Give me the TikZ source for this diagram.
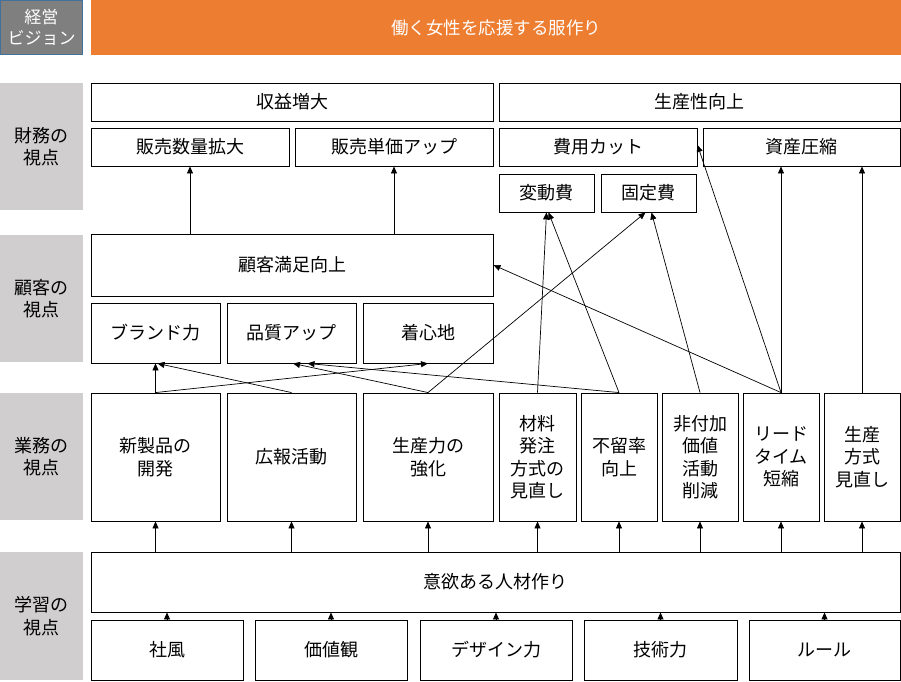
\documentclass[tikz,border=0pt]{standalone}
\usepackage{fontspec}
\setmainfont{Noto Sans CJK JP}
\usetikzlibrary{arrows.meta}
\definecolor{lblgray}{RGB}{208,206,206}
\definecolor{visgray}{RGB}{127,127,127}
\definecolor{visborder}{RGB}{65,113,156}
\definecolor{orng}{RGB}{237,125,49}
\tikzset{
  bx/.style={draw=black, line width=0.9pt, fill=white, inner sep=0pt, align=center,
    font=\fontsize{18}{22.5}\selectfont},
  lbl/.style={fill=lblgray, inner sep=0pt, align=center, anchor=north west,
    font=\fontsize{18}{22.5}\selectfont},
  arr/.style={draw=black, line width=0.7pt, -{Triangle[length=7pt,width=6pt]}}
}
\begin{document}
\begin{tikzpicture}[x=1pt,y=-1pt]
\useasboundingbox (0,0) rectangle (901,681);
% header
\node[fill=visgray, draw=visborder, line width=0.8pt, inner sep=0pt, minimum width=82pt, minimum height=54pt,
  text=white, align=center, font=\fontsize{17}{21}\selectfont] (vision) at (41.5,27.5) {経営\\ビジョン};
\node[fill=orng, inner sep=0pt, minimum width=810pt, minimum height=55pt, text=white,
  font=\fontsize{17.5}{20}\selectfont] (goal) at (496,27.5) {働く女性を応援する服作り};
% left labels
\node[lbl, minimum width=83pt, minimum height=127pt] (lz) at (0,83) {財務の\\視点};
\node[lbl, minimum width=83pt, minimum height=127pt] (lk) at (0,235) {顧客の\\視点};
\node[lbl, minimum width=83pt, minimum height=127pt] (lg) at (0,393) {業務の\\視点};
\node[lbl, minimum width=83pt, minimum height=128pt] (lh) at (0,552) {学習の\\視点};
% finance
\node[bx, minimum width=402pt, minimum height=38pt] (shueki) at (292,102) {収益増大};
\node[bx, minimum width=401pt, minimum height=38pt] (seisansei) at (699.5,102) {生産性向上};
\node[bx, minimum width=198pt, minimum height=38pt] (hanbai) at (190,147) {販売数量拡大};
\node[bx, minimum width=198pt, minimum height=38pt] (tanka) at (394,147) {販売単価アップ};
\node[bx, minimum width=198pt, minimum height=38pt] (hiyou) at (598,147) {費用カット};
\node[bx, minimum width=197pt, minimum height=38pt] (shisan) at (801.5,147) {資産圧縮};
\node[bx, minimum width=95pt, minimum height=38pt] (hendo) at (546.5,193) {変動費};
\node[bx, minimum width=95pt, minimum height=38pt] (kotei) at (648.5,193) {固定費};
% customer
\node[bx, minimum width=402pt, minimum height=62pt] (manzoku) at (292,265) {顧客満足向上};
\node[bx, minimum width=129pt, minimum height=60pt] (brand) at (155.5,333) {ブランド力};
\node[bx, minimum width=129pt, minimum height=60pt] (hinshitsu) at (291.5,333) {品質アップ};
\node[bx, minimum width=130pt, minimum height=60pt] (kigokochi) at (428,333) {着心地};
% business
\node[bx, minimum width=129pt, minimum height=128pt] (shinseihin) at (155.5,457) {新製品の\\開発};
\node[bx, minimum width=129pt, minimum height=128pt] (kouhou) at (291.5,457) {広報活動};
\node[bx, minimum width=130pt, minimum height=128pt] (seisanryoku) at (428,457) {生産力の\\強化};
\node[bx, minimum width=77pt, minimum height=128pt] (zairyo) at (537.5,457) {材料\\発注\\方式の\\見直し};
\node[bx, minimum width=76pt, minimum height=128pt] (furyu) at (619,457) {不留率\\向上};
\node[bx, minimum width=76pt, minimum height=128pt] (hifuka) at (700,457) {非付加\\価値\\活動\\削減};
\node[bx, minimum width=76pt, minimum height=128pt] (lead) at (781,457) {リード\\タイム\\短縮};
\node[bx, minimum width=76pt, minimum height=128pt] (hoshiki) at (862,457) {生産\\方式\\見直し};
% learning
\node[bx, minimum width=809pt, minimum height=60pt] (iyoku) at (495.5,582) {意欲ある人材作り};
\node[bx, minimum width=152pt, minimum height=60pt] (shafu) at (167,650) {社風};
\node[bx, minimum width=152pt, minimum height=60pt] (kachikan) at (331,650) {価値観};
\node[bx, minimum width=152pt, minimum height=60pt] (design) at (496,650) {デザイン力};
\node[bx, minimum width=153pt, minimum height=60pt] (gijutsu) at (660.5,650) {技術力};
\node[bx, minimum width=151pt, minimum height=60pt] (rule) at (824.5,650) {ルール};
% learning -> iyoku
\foreach \n in {shafu,kachikan,design,gijutsu,rule}
  \draw[arr] (\n.north) -- (iyoku.south -| \n.north);
% iyoku -> business
\foreach \n in {shinseihin,kouhou,seisanryoku,zairyo,furyu,hifuka,lead,hoshiki}
  \draw[arr] (iyoku.north -| \n.south) -- (\n.south);
% customer -> finance
\draw[arr] (manzoku.north -| hanbai.south) -- (hanbai.south);
\draw[arr] (manzoku.north -| tanka.south) -- (tanka.south);
% business -> customer/finance
\draw[arr] (shinseihin.north) -- (brand.south);
\draw[arr] (shinseihin.north) -- (kigokochi.south);
\draw[arr] (kouhou.north) -- ([xshift=2pt]brand.south);
\draw[arr] (seisanryoku.north) -- ([xshift=1.5pt]hinshitsu.south);
\draw[arr] (seisanryoku.north) -- ([xshift=-3pt]kotei.south);
\draw[arr] (furyu.north) -- ([xshift=16pt]hinshitsu.south);
\draw[arr] (furyu.north) -- ([xshift=2pt]hendo.south);
\draw[arr] (zairyo.north) -- ([xshift=0pt]hendo.south);
\draw[arr] (hifuka.north) -- ([xshift=3pt]kotei.south);
\draw[arr] (lead.north) -- ([yshift=2pt]hiyou.east);
\draw[arr] (lead.north) -- (manzoku.east);
\draw[arr] (lead.north) -- (shisan.south -| lead.north);
\draw[arr] (hoshiki.north) -- (shisan.south -| hoshiki.north);
\end{tikzpicture}
\end{document}
